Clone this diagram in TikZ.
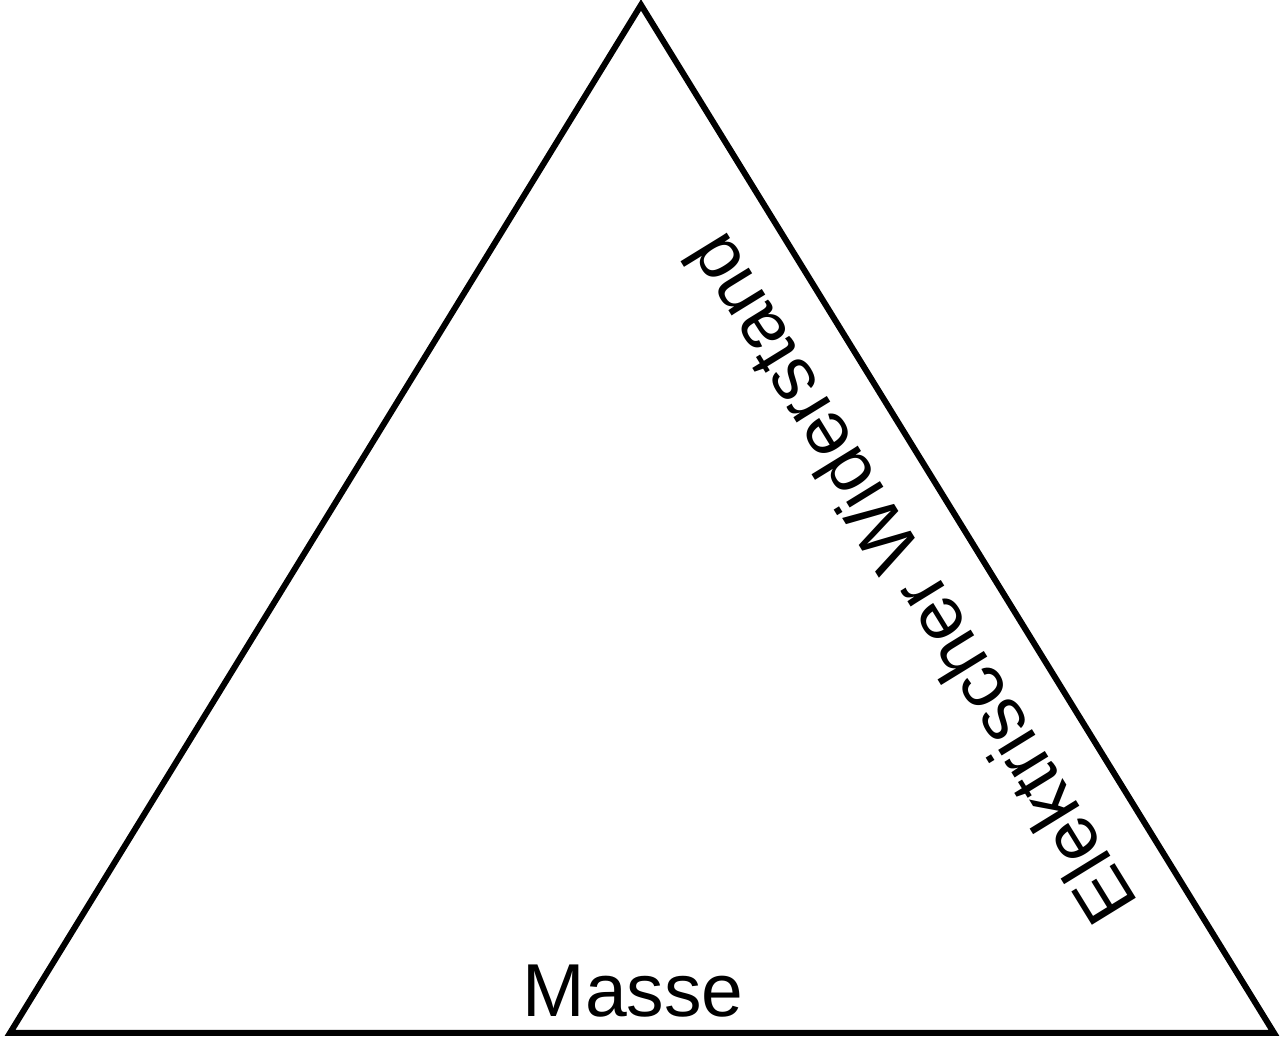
\documentclass[tikz,border=0pt]{standalone}
\usepackage{fontspec}
\setmainfont{Liberation Sans}
\begin{document}
\begin{tikzpicture}[x=1pt,y=1pt,
  edge/.style={draw=black,line width=6pt,line join=miter},
  lbl/.style={font=\fontsize{75}{82}\selectfont,inner sep=0pt}]
\useasboundingbox (0,0) rectangle (1282,1040);
\coordinate (apex) at (641,1035);
\coordinate (bl) at (10,7);
\coordinate (br) at (1274,7);
\draw[edge] (apex) -- (br) -- (bl) -- cycle;
\node[lbl,anchor=base] (masse) at (633,23) {Masse};
\node[lbl,rotate=121.6] (wid) at (909,460) {Elektrischer Widerstand};
\end{tikzpicture}
\end{document}
